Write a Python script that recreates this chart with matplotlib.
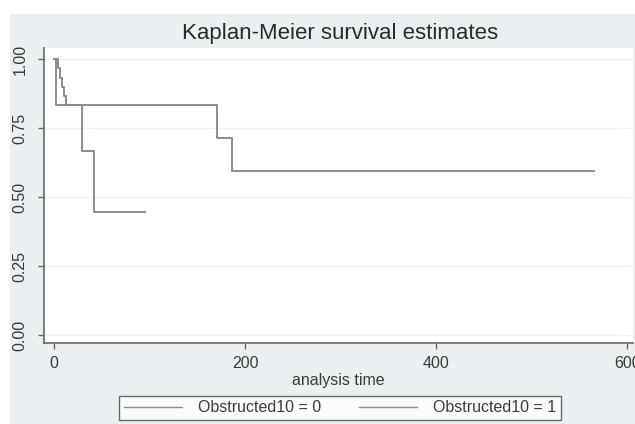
import matplotlib
matplotlib.use("Agg")
import matplotlib.pyplot as plt
from matplotlib.patches import Rectangle
from matplotlib.lines import Line2D

# Data
g0_time = [0, 4, 6, 8, 10, 13, 171, 186, 565]
g0_surv = [1.0, 0.967, 0.933, 0.900, 0.867, 0.833, 0.714, 0.595, 0.595]
g1_time = [0, 2, 29, 42, 95]
g1_surv = [1.0, 0.833, 0.667, 0.444, 0.444]
labels = ["Obstructed10 = 0", "Obstructed10 = 1"]
xticks = [0, 200, 400, 600]
yticks = [0.0, 0.25, 0.5, 0.75, 1.0]
ytick_labels = ["0.00", "0.25", "0.50", "0.75", "1.00"]

plt.rcParams['font.family'] = ['Liberation Sans', 'DejaVu Sans']

W, H = 635, 424
bg = '#eaf0f1'
fig = plt.figure(figsize=(W / 100, H / 100), dpi=100, facecolor=bg)
# white margins at top and left
fig.patches.append(Rectangle((0, 1 - 14 / H), 1, 14 / H, transform=fig.transFigure,
                             facecolor='white', edgecolor='none', zorder=0))
fig.patches.append(Rectangle((0, 0), 10 / W, 1, transform=fig.transFigure,
                             facecolor='white', edgecolor='none', zorder=0))

left, right, top, bottom = 44, 633, 48, 343
ax = fig.add_axes([left / W, 1 - bottom / H, (right - left) / W, (bottom - top) / H])
ax.set_facecolor('white')

line_col = '#8c8c8c'
ax.step(g0_time, g0_surv, where='post', color=line_col, lw=1.4, label=labels[0])
ax.step(g1_time, g1_surv, where='post', color=line_col, lw=1.4, label=labels[1])

ax.set_xlim(-10.5, 606)
ax.set_ylim(-0.029, 1.040)
ax.set_xticks(xticks)
ax.set_yticks(yticks)
ax.set_yticklabels(ytick_labels, rotation=90, va='center')
for y in yticks:
    ax.axhline(y, color='#eef3f3', lw=1.0, zorder=0)

for s in ['top', 'right']:
    ax.spines[s].set_visible(False)
for s in ['left', 'bottom']:
    ax.spines[s].set_color('#666666')
    ax.spines[s].set_linewidth(1.2)
ax.tick_params(axis='both', direction='out', length=4, width=1.0, color='#666666',
               labelcolor='#3a3a3a', labelsize=11.5)
ax.tick_params(axis='y', pad=8)
ax.tick_params(axis='x', pad=5)

ax.set_xlabel('analysis time', fontsize=11.5, color='#3a3a3a', labelpad=2)
fig.text(340 / W, 1 - 34 / H, 'Kaplan-Meier survival estimates', ha='center', va='center',
         fontsize=16, color='#2a2a2a')

handles = [Line2D([], [], color=line_col, lw=1.0), Line2D([], [], color='#b08080', lw=1.0)]
leg = fig.legend(handles, labels, loc='center', bbox_to_anchor=(340 / W, 1 - 408 / H),
                 ncol=2, fontsize=11.5, frameon=True, fancybox=False,
                 handlelength=3.6, handletextpad=1.0, columnspacing=2.4,
                 borderpad=0.3, borderaxespad=0)
leg.get_frame().set_edgecolor('#444444')
leg.get_frame().set_linewidth(1.0)
leg.get_frame().set_facecolor('white')
for t in leg.get_texts():
    t.set_color('#3a3a3a')

fig.savefig('out.png', dpi=100, facecolor=bg)
